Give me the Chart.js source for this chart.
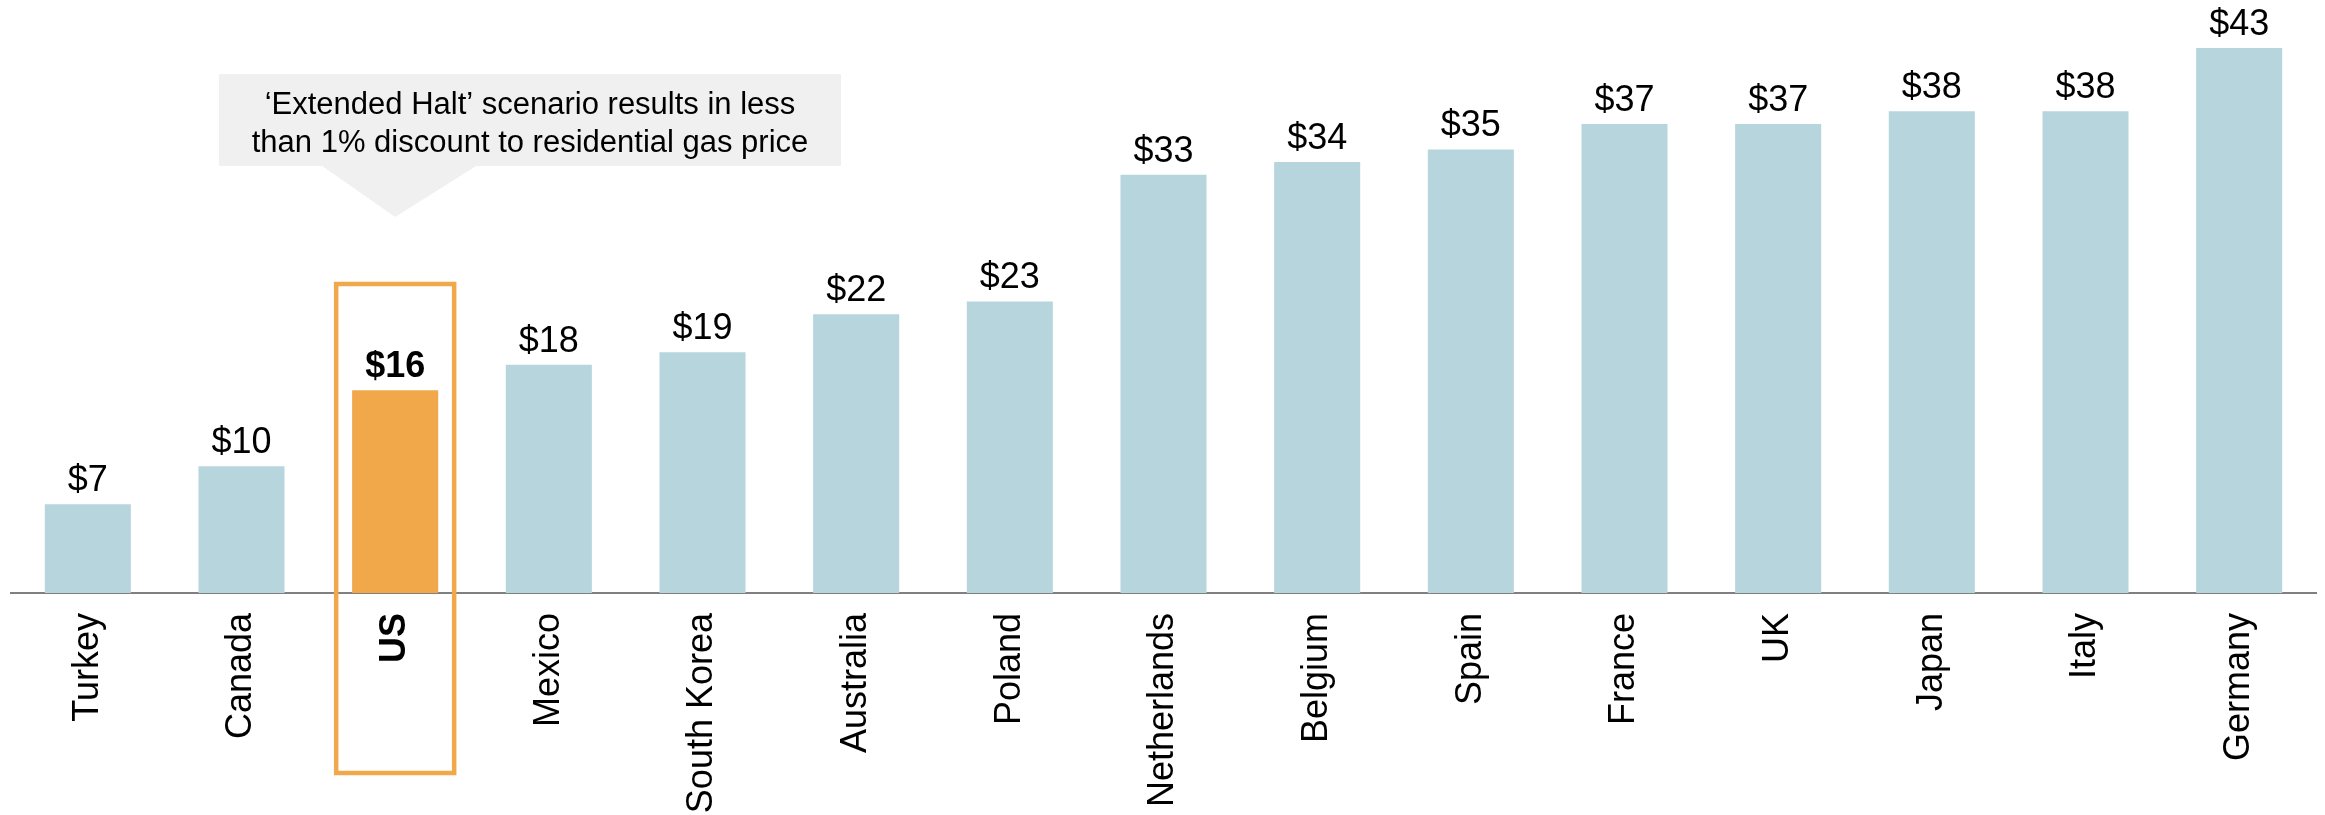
<!DOCTYPE html>
<html>
<head>
<meta charset="utf-8">
<script src="https://cdn.jsdelivr.net/npm/chart.js@4/dist/chart.umd.min.js"></script>
<style>
  body { margin: 0; background: #fff; }
  #wrap { width: 2325px; height: 815px; position: relative; }
</style>
</head>
<body>
<div id="wrap"><canvas id="gasChart"></canvas></div>
<script>
const countries = ['Turkey', 'Canada', 'US', 'Mexico', 'South Korea', 'Australia', 'Poland',
  'Netherlands', 'Belgium', 'Spain', 'France', 'UK', 'Japan', 'Italy', 'Germany'];
const prices = [7, 10, 16, 18, 19, 22, 23, 33, 34, 35, 37, 37, 38, 38, 43];
const highlight = 'US';
const calloutLines = ['\u2018Extended Halt\u2019 scenario results in less',
  'than 1% discount to residential gas price'];

const FONT = "'Liberation Sans', Arial, sans-serif";
const BAR = '#b7d5dd';
const ORANGE = '#f0a84b';
const hiIdx = countries.indexOf(highlight);

// value labels, the orange frame round the US column and the grey callout
const overlay = {
  id: 'overlay',
  afterDatasetsDraw(chart) {
    const ctx = chart.ctx;
    const xs = chart.scales.x;
    const meta = chart.getDatasetMeta(0);
    ctx.save();
    ctx.fillStyle = '#000';
    ctx.textAlign = 'center';
    ctx.textBaseline = 'alphabetic';
    meta.data.forEach((bar, i) => {
      ctx.font = (i === hiIdx ? 'bold ' : '') + '36px ' + FONT;
      ctx.fillText('$' + prices[i], bar.x, bar.y - 13);
    });

    const cx = xs.getPixelForValue(hiIdx);
    ctx.strokeStyle = ORANGE;
    ctx.lineWidth = 4.5;
    ctx.strokeRect(cx - 59, 284, 118, 489);

    ctx.fillStyle = '#f0f0f0';
    ctx.fillRect(219, 74, 622, 92);
    ctx.beginPath();
    ctx.moveTo(cx - 73, 166);
    ctx.lineTo(cx + 81, 166);
    ctx.lineTo(cx, 217);
    ctx.closePath();
    ctx.fill();

    ctx.fillStyle = '#000';
    ctx.font = '31px ' + FONT;
    calloutLines.forEach((t, i) => ctx.fillText(t, 530, 114 + i * 38));
    ctx.restore();
  }
};

new Chart(document.getElementById('gasChart'), {
  type: 'bar',
  data: {
    labels: countries,
    datasets: [{
      data: prices,
      backgroundColor: countries.map(c => c === highlight ? ORANGE : BAR),
      barPercentage: 0.56,
      categoryPercentage: 1
    }]
  },
  options: {
    responsive: true,
    maintainAspectRatio: false,
    animation: false,
    layout: { padding: { top: 48, left: 11, right: 9, bottom: 0 } },
    plugins: { legend: { display: false }, tooltip: { enabled: false } },
    scales: {
      x: {
        grid: { display: false },
        border: { display: true, color: '#808080', width: 2 },
        ticks: {
          color: '#000',
          autoSkip: false,
          minRotation: 90,
          maxRotation: 90,
          padding: 12,
          font: c => ({ family: FONT, size: 36, weight: countries[c.index] === highlight ? 'bold' : 'normal' })
        },
        afterFit: s => { s.height = 222; }
      },
      y: { display: false, min: 0, max: 43 }
    }
  },
  plugins: [overlay]
});
</script>
</body>
</html>
